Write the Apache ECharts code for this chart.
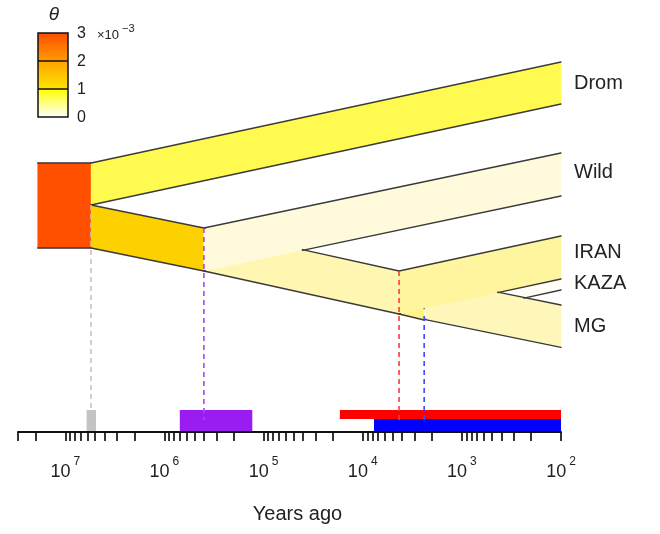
<!DOCTYPE html>
<html><head><meta charset="utf-8">
<script src="https://cdn.jsdelivr.net/npm/echarts@6/dist/echarts.min.js"></script>
<style>html,body{margin:0;padding:0;background:#fff}#c{width:660px;height:534px}</style>
</head><body><div id="c"></div>
<script>
// ---------- DATA ----------
// populations (years ago, draw order), y in diagram units (0 top .. 100 at time axis)
const popNames    = ['Root','Drom','A','B','Wild','C','KAZA','MG','IRAN'];
const popStart    = [1.9e7, 5.5e6, 5.5e6, 4.0e5, 4.0e5, 4.3e3, 2.4e3, 2.4e3, 4.3e3];
const popEnd      = [5.5e6, 100,   4.0e5, 4.3e3, 100,   2.4e3, 100,   100,   100];
const popTopStart = [32.75, 32.75, 43.25, 49,    49,    59.75, 69.14, 61.25, 59.75];
const popTopEnd   = [32.75, 7.5,   49,    59.75, 30.25, 61.25, 61.75, 68.25, 51];
const popWidth    = [21.25, 10.5,  10.75, 10.75, 10.75, 10.75, 2.75,  10.6,  10.75];
const leafNames   = ['Drom','Wild','IRAN','KAZA','MG'];

// divergence times and their intervals (years ago)
const splitTime = [5.5e6, 4.0e5, 4.3e3, 2.4e3];
const ciOld     = [6.1e6, 7.0e5, 1.7e4, 7.7e3];
const ciYoung   = [4.9e6, 1.3e5, 100,   100];

// axis
const majorTicks = [1e2, 1e3, 1e4, 1e5, 1e6, 1e7];
const axisMin = 100, axisMax = 3e7;
const thetaTicks = ['0','1','2','3'];

// ---------- STYLE / LAYOUT ----------
const popColor = {Root:'#FF5000', Drom:'#FFFA50', A:'#FDD000', B:'#FFF6B2', Wild:'#FFFADB',
                  C:'#FFF385', KAZA:'#FFFEF6', MG:'#FFF7BA', IRAN:'#FFF59E'};
// outline edges: [population, side(0 top / 1 bottom), populations that hide it]
const edgePop  = ['Root','Root','Drom','Drom','A','A','Wild','Wild','B','B','C','IRAN','IRAN','MG','MG','KAZA'];
const edgeSide = [0,1,0,1,0,1,0,1,0,1,1,0,1,0,1,1];
const edgeHide = [[],[],[],[],[],[],[],['B'],['Wild'],[],[],[],['C','MG'],['IRAN'],[],['MG']];
const dashTop   = [43.25, 49, 59.75, 71.0];
const dashColor = ['#C4C4C4','#A448F4','#FF3A3A','#3A4CFF'];
const barColor  = ['#C4C4C4','#9B1CF0','#FF0000','#0000FF'];
const barTop    = [94.5, 94.5, 94.5, 96.75];
const barBottom = [100, 100, 96.75, 100];
const labelDy   = {Drom:0, Wild:-2, IRAN:-5, KAZA:-1, MG:0};
const FONT = '"Liberation Sans", Arial, Helvetica, sans-serif';

const tickVals = [];
for (let k = 2; k <= 7; k++) for (let m = 1; m <= 9; m++) { const v = m * Math.pow(10, k); if (v <= axisMax) tickVals.push(v); }

const idx = n => popNames.indexOf(n);
function bandPts(i, api) {
  return [api.coord([popStart[i], popTopStart[i]]), api.coord([popEnd[i], popTopEnd[i]]),
          api.coord([popEnd[i], popTopEnd[i] + popWidth[i]]), api.coord([popStart[i], popTopStart[i] + popWidth[i]])];
}
// interval of s in [0,1] where linear g(s)=g0+s*(g1-g0) > thr
function posInt(g0, g1, thr) {
  const d = g1 - g0;
  if (Math.abs(d) < 1e-9) return g0 > thr ? [0, 1] : null;
  const s = (thr - g0) / d;
  return d > 0 ? [Math.max(0, s), 1] : [0, Math.min(1, s)];
}
function hiddenInterval(A, B, q) {
  const x0 = q[0][0], x1 = q[1][0];
  const yt = x => q[0][1] + (q[1][1] - q[0][1]) * (x - x0) / (x1 - x0);
  const yb = x => q[3][1] + (q[2][1] - q[3][1]) * (x - x0) / (x1 - x0);
  const eps = 0.6;
  const gs = [
    [A[0] - x0, B[0] - x0, 0.01], [x1 - A[0], x1 - B[0], 0.01],
    [A[1] - yt(A[0]), B[1] - yt(B[0]), eps], [yb(A[0]) - A[1], yb(B[0]) - B[1], eps]
  ];
  let lo = 0, hi = 1;
  for (const g of gs) { const r = posInt(g[0], g[1], g[2]); if (!r) return null; lo = Math.max(lo, r[0]); hi = Math.min(hi, r[1]); }
  return hi > lo ? [lo, hi] : null;
}

const chart = echarts.init(document.getElementById('c'));
const W = 30, BX = 38, BY = 33, SEG = 28;
const grad = (a, b) => new echarts.graphic.LinearGradient(0, 0, 0, 1, [{offset:0,color:a},{offset:1,color:b}]);

chart.setOption({
  animation: false,
  backgroundColor: '#fff',
  grid: {left: 18, right: 99, top: 32, bottom: 102, outerBoundsMode: 'none'},
  xAxis: {
    type: 'log', logBase: 10, min: axisMin, max: axisMax, inverse: true, z: 5, position: 'bottom',
    axisLine: {show: true, onZero: false, lineStyle: {color: '#111', width: 2}},
    axisTick: {show: true, customValues: tickVals, length: 9, lineStyle: {color: '#111', width: 1.7}},
    minorTick: {show: false},
    splitLine: {show: false},
    axisLabel: {
      customValues: majorTicks, margin: 24, color: '#222',
      formatter: v => '{b|10}{s|' + Math.round(Math.log10(v)) + '}',
      rich: {b: {fontSize: 18, fontFamily: FONT, color: '#222', lineHeight: 26, padding: [7, 0, 0, 0]},
             s: {fontSize: 12, fontFamily: FONT, color: '#222', verticalAlign: 'top', padding: [0, 0, 0, 3]}}
    },
    name: 'Years ago', nameLocation: 'middle', nameGap: 72,
    nameTextStyle: {fontSize: 20, fontFamily: FONT, color: '#222', padding: [0, 0, 0, 16]}
  },
  yAxis: {type: 'value', min: 0, max: 100, inverse: true, show: false},
  graphic: [
    {type:'rect', shape:{x:BX, y:BY, width:W, height:SEG}, style:{fill: grad('#FF4E00','#FF9C00')}},
    {type:'rect', shape:{x:BX, y:BY+SEG, width:W, height:SEG}, style:{fill: grad('#FFA400','#FFE400')}},
    {type:'rect', shape:{x:BX, y:BY+2*SEG, width:W, height:SEG}, style:{fill: grad('#FFFF00','#FFFFFF')}},
    {type:'rect', shape:{x:BX, y:BY, width:W, height:3*SEG}, style:{fill:'none', stroke:'#111', lineWidth:1.5}},
    {type:'line', shape:{x1:BX, y1:BY+SEG, x2:BX+W, y2:BY+SEG}, style:{stroke:'#111', lineWidth:1.5}},
    {type:'line', shape:{x1:BX, y1:BY+2*SEG, x2:BX+W, y2:BY+2*SEG}, style:{stroke:'#111', lineWidth:1.5}},
    {type:'text', x:54, y:15, style:{text:'θ', font:'italic 19px ' + FONT, fill:'#222', align:'center', verticalAlign:'middle'}},
    ...thetaTicks.map((t, i) => ({type:'text', x:77, y:BY + 3*SEG - i*SEG + 1,
        style:{text:t, font:'16px ' + FONT, fill:'#222', align:'left', verticalAlign:'middle'}})),
    {type:'text', x:97, y:35, style:{text:'×10', font:'13px ' + FONT, fill:'#222', align:'left', verticalAlign:'middle'}},
    {type:'text', x:122, y:29, style:{text:'−3', font:'11px ' + FONT, fill:'#222', align:'left', verticalAlign:'middle'}}
  ],
  series: [
    { // population bands
      type: 'custom', name: 'bands', clip: false, z: 2,
      data: popNames.map((n, i) => [popStart[i], popTopStart[i], i]),
      encode: {x: 0, y: 1},
      renderItem: (params, api) => {
        const i = api.value(2);
        return {type:'polygon', shape:{points: bandPts(i, api)}, style:{fill: popColor[popNames[i]], stroke: popColor[popNames[i]], lineWidth: 0.4}};
      }
    },
    { // outlines
      type: 'custom', name: 'edges', clip: false, z: 3,
      data: edgePop.map((n, e) => [popStart[idx(n)], popTopStart[idx(n)], e]),
      encode: {x: 0, y: 1},
      renderItem: (params, api) => {
        const e = api.value(2);
        const p = bandPts(idx(edgePop[e]), api);
        const A = edgeSide[e] ? p[3] : p[0], B = edgeSide[e] ? p[2] : p[1];
        let ints = edgeHide[e].map(h => hiddenInterval(A, B, bandPts(idx(h), api))).filter(Boolean).sort((a, b) => a[0] - b[0]);
        const vis = []; let cur = 0;
        for (const it of ints) { if (it[0] > cur) vis.push([cur, it[0]]); cur = Math.max(cur, it[1]); }
        if (cur < 1) vis.push([cur, 1]);
        const P = s => [A[0] + s * (B[0] - A[0]), A[1] + s * (B[1] - A[1])];
        return {type:'group', children: vis.filter(v => v[1] - v[0] > 1e-4).map(v => {
          const a = P(v[0]), b = P(v[1]);
          return {type:'line', shape:{x1:a[0], y1:a[1], x2:b[0], y2:b[1]}, style:{stroke:'#3a3a3a', lineWidth:1.3, lineCap:'round'}};
        })};
      }
    },
    { // divergence time intervals
      type: 'custom', name: 'intervals', clip: false, z: 3,
      data: splitTime.map((t, i) => [ciOld[i], barTop[i], i]),
      encode: {x: 0, y: 1},
      renderItem: (params, api) => {
        const i = api.value(2);
        const a = api.coord([ciOld[i], barTop[i]]), b = api.coord([ciYoung[i], barBottom[i]]);
        return {type:'rect', shape:{x:a[0], y:a[1], width:b[0]-a[0], height:b[1]-a[1]}, style:{fill: barColor[i]}};
      }
    },
    { // dashed divergence lines
      type: 'custom', name: 'splits', clip: false, z: 4,
      data: splitTime.map((t, i) => [t, dashTop[i], i]),
      encode: {x: 0, y: 1},
      renderItem: (params, api) => {
        const i = api.value(2);
        const a = api.coord([splitTime[i], dashTop[i]]), b = api.coord([splitTime[i], 97]);
        return {type:'line', shape:{x1:a[0], y1:a[1], x2:b[0], y2:b[1]}, style:{stroke: dashColor[i], lineWidth: 1.6, lineDash:[5, 4]}};
      }
    },
    { // leaf labels
      type: 'custom', name: 'labels', clip: false, z: 4,
      data: leafNames.map(n => [popEnd[idx(n)], popTopEnd[idx(n)] + popWidth[idx(n)] / 2, idx(n)]),
      encode: {x: 0, y: 1},
      renderItem: (params, api) => {
        const i = api.value(2);
        const c = api.coord([popEnd[i], popTopEnd[i] + popWidth[i] / 2]);
        return {type:'text', x: c[0] + 13, y: c[1] + labelDy[popNames[i]],
                style:{text: popNames[i], font: '20px ' + FONT, fill: '#222', align:'left', verticalAlign:'middle'}};
      }
    }
  ]
});
</script></body></html>
